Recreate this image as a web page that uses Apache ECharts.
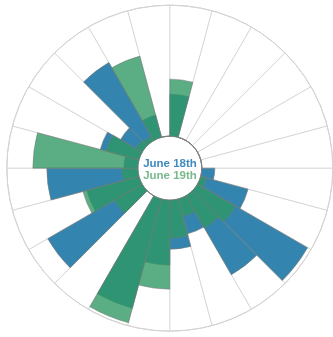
<!DOCTYPE html>
<html>
<head>
<meta charset="utf-8">
<script src="https://cdn.jsdelivr.net/npm/echarts@6/dist/echarts.min.js"></script>
<style>
  html, body { margin: 0; padding: 0; background: #fff; }
  #main { width: 333px; height: 337px; }
</style>
</head>
<body>
<div id="main"></div>
<script>
// 24 hourly sectors, clockwise from the top
const hours = [
  "0", "1", "2", "3", "4", "5", "6", "7", "8", "9", "10", "11",
  "12", "13", "14", "15", "16", "17", "18", "19", "20", "21", "22", "23",
];
const june18 = [42, 0, 0, 0, 0, 0, 13, 49, 127, 91, 36, 49, 65, 113, 0, 109, 54, 91, 14, 40, 25, 90, 23, 0];
const june19 = [57, 0, 0, 0, 0, 0, 0, 6, 44, 37, 18, 38, 89, 128, 0, 32, 58, 16, 105, 34, 7, 5, 84, 0];
const seriesNames = ["June 18th", "June 19th"];

const chart = echarts.init(document.getElementById("main"));

const labelFont = "Liberation Sans, Arial, sans-serif";

const option = {
  backgroundColor: "#fff",
  animation: false,
  title: [
    {
      text: seriesNames[0],
      left: 170,
      top: 158,
      padding: 0,
      textAlign: "center",
      textStyle: { color: "#3f8bc0", fontSize: 11.5, fontWeight: "bold", fontFamily: labelFont },
    },
    {
      text: seriesNames[1],
      left: 170,
      top: 170,
      padding: 0,
      textAlign: "center",
      textStyle: { color: "#7ab98e", fontSize: 11.5, fontWeight: "bold", fontFamily: labelFont },
    },
  ],
  polar: {
    center: ["51%", "49.9%"],
    radius: [32, 163],
  },
  angleAxis: {
    type: "category",
    data: hours,
    startAngle: 90,
    clockwise: true,
    axisLine: { show: true, lineStyle: { color: "#d3d3d3", width: 1 } },
    axisTick: { show: false },
    axisLabel: { show: false },
    splitLine: { show: true, lineStyle: { color: "#d3d3d3", width: 1 } },
  },
  radiusAxis: {
    type: "value",
    min: 0,
    max: 131,
    interval: 131,
    axisLine: { show: false },
    axisTick: { show: false },
    axisLabel: { show: false },
    splitLine: { show: true, lineStyle: { color: ["#a0a0a0", "#d3d3d3"], width: 1 } },
  },
  series: [
    {
      name: seriesNames[0],
      type: "bar",
      coordinateSystem: "polar",
      data: june18,
      barGap: "-100%",
      barCategoryGap: "0%",
      itemStyle: { color: "#3385af", borderColor: "rgba(120,120,120,0.8)", borderWidth: 0.8 },
    },
    {
      name: seriesNames[1],
      type: "bar",
      coordinateSystem: "polar",
      data: june19,
      barGap: "-100%",
      barCategoryGap: "0%",
      itemStyle: { color: "#2f9863", opacity: 0.79, borderColor: "rgba(120,120,120,0.8)", borderWidth: 0.8 },
    },
  ],
};

chart.setOption(option);
</script>
</body>
</html>
